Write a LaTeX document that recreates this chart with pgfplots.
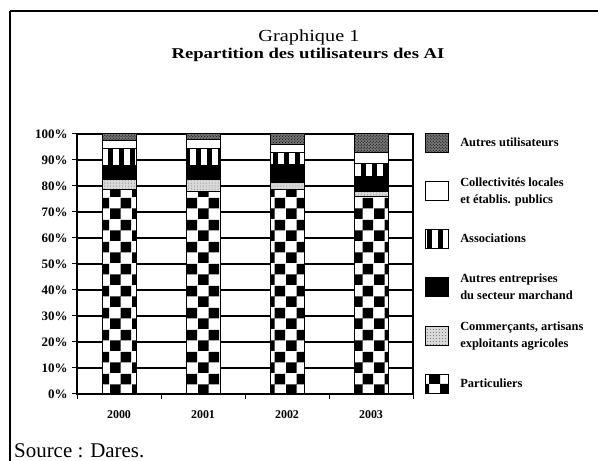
\documentclass[border=0pt]{standalone}
\usepackage{fontspec}
\setmainfont{Liberation Serif}
\usepackage{pgfplots}
\pgfplotsset{compat=1.18}
\usetikzlibrary{patterns}

\pgfdeclarepatternformonly{bigcheck}{\pgfqpoint{0bp}{0bp}}{\pgfqpoint{22bp}{22bp}}{\pgfqpoint{22bp}{22bp}}{%
  \pgfpathrectangle{\pgfqpoint{0bp}{0bp}}{\pgfqpoint{11bp}{11bp}}%
  \pgfpathrectangle{\pgfqpoint{11bp}{11bp}}{\pgfqpoint{11bp}{11bp}}%
  \pgfusepath{fill}}
\pgfdeclarepatternformonly{vstripes}{\pgfqpoint{0bp}{-1bp}}{\pgfqpoint{11bp}{41bp}}{\pgfqpoint{11bp}{40bp}}{%
  \pgfpathrectangle{\pgfqpoint{3bp}{-1bp}}{\pgfqpoint{6bp}{42bp}}%
  \pgfusepath{fill}}

\begin{document}
\begin{tikzpicture}
\path[use as bounding box] (0bp,0bp) rectangle (598bp,461bp);
\draw[line width=1.6bp] (10bp,450bp) -- (598bp,450bp);
\draw[line width=1.6bp] (10bp,450bp) -- (10bp,0bp);
\node[anchor=base, inner sep=0pt, font=\fontsize{17}{20}\selectfont] at (309bp,419bp) {\scalebox{1.2}[1]{Graphique 1}};
\node[anchor=base, inner sep=0pt, font=\fontsize{15}{18}\selectfont\bfseries] at (308bp,402bp) {\scalebox{1.25}[1]{Repartition des utilisateurs des AI}};
\node[anchor=base west, font=\fontsize{21}{24}\selectfont, inner sep=0pt] at (14bp,4bp) {Source : Dares.};

\begin{axis}[
  at={(77bp,67bp)}, anchor=south west,
  scale only axis, width=336bp, height=260bp,
  ybar stacked, bar width=34bp,
  xmin=-0.5, xmax=3.5, ymin=0, ymax=100,
  xtick={0,1,2,3}, xticklabels={2000,2001,2002,2003},
  major x tick style={draw=none},
  extra x ticks={-0.5,0.5,1.5,2.5,3.5}, extra x tick labels={},
  extra x tick style={major x tick style={draw=black, line width=1bp}, grid=none},
  xtick pos=bottom, ytick pos=left,
  ytick={0,10,...,100},
  /pgf/number format/assume math mode=true,
  yticklabel={\pgfmathprintnumber{\tick}\%},
  tick align=outside, major tick length=5bp,
  ymajorgrids, grid style={black, line width=1.2bp},
  axis line style={black, line width=1.4bp},
  tick style={black, line width=1bp},
  ticklabel style={font=\fontsize{12}{14}\selectfont\bfseries},
  yticklabel style={font=\fontsize{13}{14}\selectfont\bfseries, xshift=-1bp},
  xticklabel style={yshift=-8bp},
  legend style={at={(1.027,1.03)}, anchor=north west, draw=none, fill=none,
    font=\fontsize{12.5}{17}\selectfont\bfseries,
    nodes={minimum height=30bp},
    cells={anchor=west, align=left}, row sep=17.4bp,
    /tikz/every odd column/.append style={column sep=9bp}},
  reverse legend,
  legend image code/.code={\draw[#1] (0bp,-9.5bp) rectangle (23bp,9.5bp);},
]
\addplot[draw=black, line width=1bp, fill=white, postaction={pattern=bigcheck, pattern color=black}]
  coordinates {(0,78.5) (1,78) (2,78.5) (3,76)};
\addlegendentry{Particuliers}
\addplot[draw=black, line width=1bp, fill=black!15, postaction={pattern=dots, pattern color=black!55}]
  coordinates {(0,4) (1,4.5) (2,2.7) (3,2)};
\addlegendentry{Commerçants, artisans\\exploitants agricoles}
\addplot[draw=black, line width=1bp, fill=black]
  coordinates {(0,5.5) (1,5.5) (2,7) (3,5.5)};
\addlegendentry{Autres entreprises\\du secteur marchand}
\addplot[draw=black, line width=1bp, fill=black, postaction={pattern=vstripes, pattern color=white}]
  coordinates {(0,6.5) (1,6.5) (2,4.6) (3,5.3)};
\addlegendentry{Associations}
\addplot[draw=black, line width=1bp, fill=white]
  coordinates {(0,3) (1,3.3) (2,3.1) (3,3.9)};
\addlegendentry{Collectivités locales\\et établis. publics}
\addplot[draw=black, line width=1bp, fill=black!55, postaction={pattern=crosshatch dots, pattern color=black}]
  coordinates {(0,2.5) (1,2.2) (2,4.1) (3,7.3)};
\addlegendentry{Autres utilisateurs}
\end{axis}
\end{tikzpicture}
\end{document}
